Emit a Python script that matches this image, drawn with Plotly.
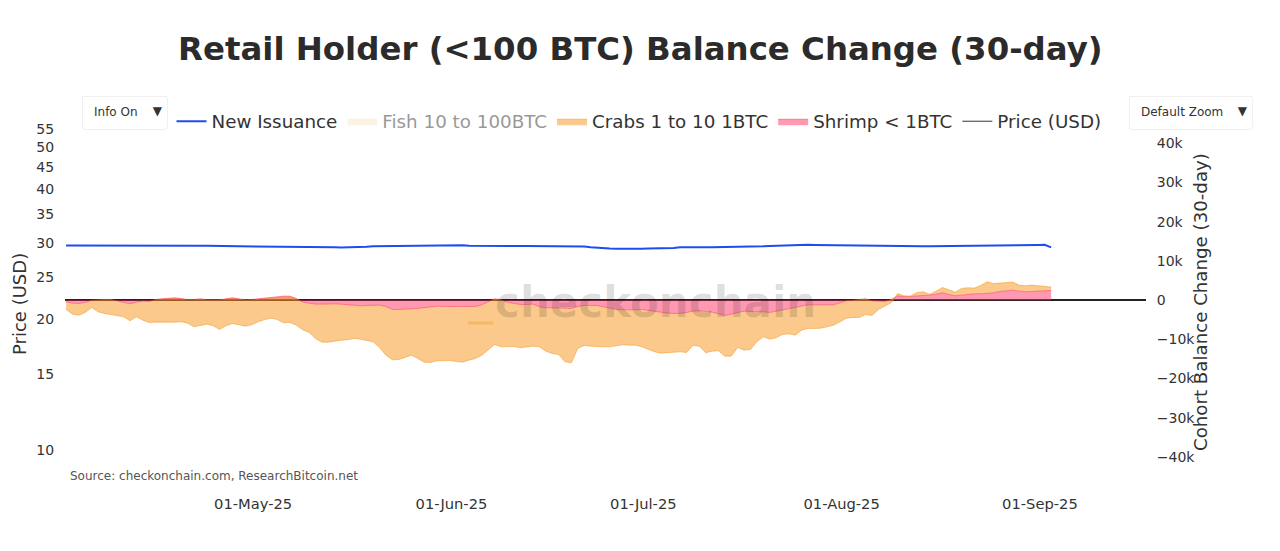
import pandas as pd
import plotly.graph_objects as go

# BTC, 30-day change (one value per day from early April)
shrimp = [
    -425, -765, -850, -595, 0, 170, 170, 170, -170, -595, -935, -510, -255, -340, 170, 340,
    510, 595, 425, 170, 170, 340, 85, 0, 85, 340, 595, 340, 85, 170, 340, 595,
    680, 850, 1020, 1020, 425, -510, -850, -1020, -1020, -935, -935, -1020, -1190, -1360, -1445, -1360,
    -1275, -1275, -1615, -2380, -2380, -2210, -2210, -2125, -1955, -1700, -1530, -1615, -1700, -1615, -1615, -1615,
    -1615, -1190, -425, 340, 85, -510, -850, -1105, -1105, -1020, -1700, -1955, -1955, -1955, -2040, -2125,
    -1615, -1360, -1360, -1360, -1700, -2125, -2380, -2465, -2550, -2465, -2380, -2635, -2975, -3230, -3315, -3400,
    -3400, -3145, -2805, -2720, -2805, -3060, -3485, -3910, -3570, -3145, -2805, -2890, -2890, -2975, -3145, -2805,
    -2465, -2210, -1870, -1445, -1190, -1190, -1190, -1190, -1190, -680, -170, 0, 170, 340, -170, -340,
    -340, 170, 1105, 850, 935, 1105, 1190, 1275, 1530, 1870, 1445, 1105, 1275, 1530, 1615, 1615,
    1700, 1870, 2210, 2380, 2550, 2295, 2125, 2210, 2295, 2380, 2465,
]
crabs = [
    -1955, -2805, -2975, -2550, -1870, -3145, -3570, -3910, -3910, -3655, -4335, -3740, -4845, -5355, -5780, -5950,
    -6290, -6205, -5950, -6035, -6970, -6800, -6205, -6545, -7565, -6885, -6545, -6630, -6715, -6460, -5865, -5610,
    -5270, -5780, -6800, -6715, -6800, -7055, -7395, -8755, -9690, -9775, -9435, -9180, -8925, -8415, -8500, -8925,
    -9350, -10795, -12410, -12835, -12750, -12410, -11815, -12750, -13855, -14195, -13940, -13855, -13685, -14025, -14195, -13685,
    -13260, -12835, -12325, -11645, -11985, -11390, -10965, -11050, -10795, -10710, -10200, -11050, -11645, -11900, -13685, -13855,
    -10710, -10200, -10370, -10540, -10200, -9775, -9180, -8925, -8925, -9010, -9520, -9945, -10200, -10285, -10030, -9860,
    -9775, -10200, -8755, -9010, -10625, -9945, -9435, -10370, -10710, -8925, -9945, -9690, -7735, -6375, -6800, -6800,
    -6290, -6375, -7055, -6205, -6035, -6035, -5950, -5610, -5185, -4845, -4420, -4420, -4590, -3995, -3740, -2040,
    -1190, -850, 595, 255, 85, 850, 935, 255, 765, 1360, 1190, 935, 1700, 1615, 1445, 2125,
    2975, 2380, 2125, 2125, 2040, 1530, 1530, 1615, 1360, 1020, 850,
]
new_issuance = [
    13930, 13930, 13940, 13960, 13970, 13980, 14000, 14010, 14020, 14030, 14040, 14050, 14060, 14050, 14040, 14030,
    14020, 14000, 13980, 13960, 13940, 13880, 13840, 13830, 13820, 13810, 13800, 13790, 13780, 13770, 13760, 13740,
    13720, 13710, 13690, 13670, 13620, 13590, 13580, 13560, 13540, 13500, 13450, 13420, 13420, 13450, 13500, 13580,
    13760, 13780, 13800, 13810, 13820, 13840, 13860, 13900, 13940, 13980, 14020, 14060, 14090, 14070, 13980, 13870,
    13840, 13840, 13830, 13830, 13820, 13820, 13810, 13810, 13800, 13800, 13790, 13790, 13780, 13780, 13770, 13770,
    13760, 13700, 13500, 13350, 13200, 13160, 13120, 13080, 13080, 13100, 13120, 13140, 13150, 13160, 13160, 13300,
    13450, 13500, 13500, 13500, 13500, 13500, 13510, 13510, 13520, 13520, 13530, 13620, 13660, 13720, 13800, 13880,
    13950, 14000, 14030, 14070, 14100, 14080, 14050, 14000, 13960, 13930, 13920, 13900, 13890, 13870, 13860, 13850,
    13840, 13750, 13670, 13680, 13690, 13700, 13710, 13720, 13730, 13740, 13750, 13760, 13770, 13780, 13800, 13840,
    13860, 13880, 13900, 13920, 13940, 14000, 14030, 14060, 14080, 14100, 13450,
]

# hidden or off the scale in the picture, rough month-start values
month_starts = ["2025-04-02", "2025-05-01", "2025-06-01", "2025-07-01", "2025-08-01", "2025-09-01"]
fish = [-4000, 6000, 3000, -5000, -7000, -3000]
price = [85000, 96500, 105000, 107000, 114000, 108000]

price_ticks = [10, 15, 20, 25, 30, 35, 40, 45, 50, 55]
balance_ticks = [-40000, -30000, -20000, -10000, 0, 10000, 20000, 30000, 40000]

FONT = "DejaVu Sans"
dates = pd.date_range("2025-04-01 18:00", periods=len(shrimp), freq="D")

fig = go.Figure()

fig.add_trace(go.Scatter(x=dates, y=new_issuance, name="New Issuance", yaxis="y2", legendrank=1,
                         mode="lines", line=dict(color="#1f4cf0", width=2)))
# shrimp goes first so that it stacks next to the zero line
fig.add_trace(go.Scatter(x=dates, y=shrimp, name="Shrimp < 1BTC", yaxis="y2", legendrank=4,
                         mode="lines", stackgroup="cohorts", fillcolor="rgba(255,50,100,0.5)",
                         line=dict(color="rgba(255,50,100,0.5)", width=1)))
fig.add_trace(go.Scatter(x=dates, y=crabs, name="Crabs 1 to 10 1BTC", yaxis="y2", legendrank=3,
                         mode="lines", stackgroup="cohorts", fillcolor="rgba(247,147,26,0.5)",
                         line=dict(color="rgba(247,147,26,0.5)", width=1)))
fig.add_trace(go.Scatter(x=month_starts, y=fish, name="Fish 10 to 100BTC", yaxis="y2", legendrank=2,
                         mode="lines", stackgroup="cohorts", visible="legendonly", fillcolor="rgba(250,200,120,0.4)",
                         line=dict(color="rgba(250,200,120,0.4)", width=1)))
fig.add_trace(go.Scatter(x=month_starts, y=price, name="Price (USD)", legendrank=5,
                         mode="lines", line=dict(color="#333333", width=1)))

# the page body adds 8px, the margins allow for that
fig.update_layout(
    width=1280,
    height=551,
    margin=dict(l=57, r=142, t=96, b=66),
    paper_bgcolor="white",
    plot_bgcolor="white",
    font=dict(family=FONT, color="#333333", size=14),
    title=dict(text="<b>Retail Holder (<100 BTC) Balance Change (30-day)</b>",
               x=0.494, xanchor="center", y=0.927, yanchor="middle",
               font=dict(size=32.4, color="#2b2b2b")),
    legend=dict(orientation="h", traceorder="normal", x=0.531, xanchor="center", y=1.003, yanchor="top",
                font=dict(size=18.3), bgcolor="rgba(0,0,0,0)"),
    xaxis=dict(range=["2025-04-01 14:00", "2025-09-17 14:00"], dtick="M1", tick0="2025-05-01",
               tickformat="%d-%b-%y", showgrid=False, zeroline=False, tickfont=dict(size=14.7)),
    yaxis=dict(type="log", range=[0.9008, 1.798], tickvals=price_ticks, showgrid=False, zeroline=False,
               ticks="outside", ticklen=7, tickcolor="white", automargin=False, tickfont=dict(size=14)),
    yaxis2=dict(overlaying="y", side="right", range=[-49170, 50000], tickvals=balance_ticks,
                tickformat="~s", showgrid=False, zeroline=True, zerolinecolor="#222222", zerolinewidth=2,
                ticks="outside", ticklen=7, tickcolor="white", automargin=False, tickfont=dict(size=14)),
    updatemenus=[
        dict(type="dropdown", x=0.015, y=1.0244, xanchor="left", yanchor="top", pad=dict(l=0, t=0),
             bgcolor="white", bordercolor="#f0f0f0", borderwidth=1, font=dict(size=12), showactive=False,
             buttons=[dict(label="Info On", method="relayout", args=[{"annotations[0].visible": True}]),
                      dict(label="Info Off", method="relayout", args=[{"annotations[0].visible": False}])]),
        dict(type="dropdown", x=0.983, y=1.0244, xanchor="left", yanchor="top", pad=dict(l=0, t=0),
             bgcolor="white", bordercolor="#f0f0f0", borderwidth=1, font=dict(size=12), showactive=False,
             buttons=[dict(label="Default Zoom", method="relayout", args=[{"yaxis2.range": [-49170, 50000]}]),
                      dict(label="Full Range", method="relayout", args=[{"yaxis2.autorange": True}])]),
    ],
    annotations=[
        dict(text="Source: checkonchain.com, ResearchBitcoin.net", xref="paper", yref="paper",
             x=0.0028, y=0.0437, xanchor="left", yanchor="middle", showarrow=False,
             font=dict(size=12, color="#555555")),
        dict(text="<b>checkonchain</b>", xref="paper", yref="paper", x=0.546, y=0.491,
             xanchor="center", yanchor="middle", showarrow=False,
             font=dict(size=42, color="rgba(0,0,0,0.13)")),
        # axis titles as annotations, the right one has to sit over its tick labels
        dict(text="Price (USD)", xref="paper", yref="paper", x=-0.0416, y=0.486, textangle=-90,
             xanchor="center", yanchor="middle", showarrow=False, font=dict(size=18)),
        dict(text="Cohort Balance Change (30-day)", xref="paper", yref="paper", x=1.05, y=0.491, textangle=-90,
             xanchor="center", yanchor="middle", showarrow=False, font=dict(size=18.2)),
    ],
    # stray orange dash sitting inside the crab area
    shapes=[dict(type="line", xref="paper", yref="paper", x0=0.3728, x1=0.396, y0=0.437, y1=0.437,
                 line=dict(color="rgba(247,147,26,0.35)", width=3))],
)

fig.write_html("out.html")
